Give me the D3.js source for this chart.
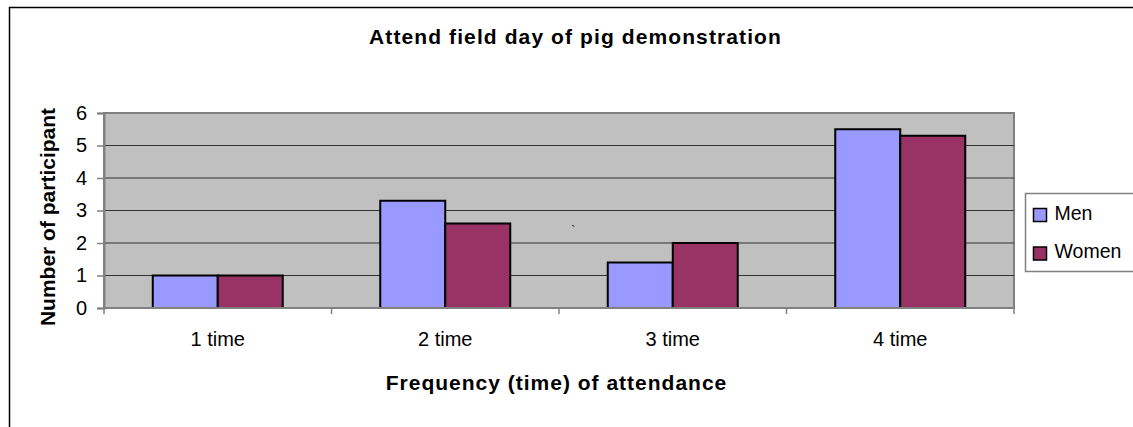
<!DOCTYPE html>
<html>
<head>
<meta charset="utf-8">
<script src="https://cdn.jsdelivr.net/npm/d3@7"></script>
<style>
  html, body { margin: 0; background: #fff; overflow: hidden; }
  svg { display: block; font-family: Arial, "Liberation Sans", sans-serif; }
</style>
</head>
<body>
<div id="chart"></div>
<script>
// chart data
var categories = ["1 time", "2 time", "3 time", "4 time"];
var seriesNames = ["Men", "Women"];
var menValues = [1, 3.3, 1.4, 5.5];
var womenValues = [1, 2.6, 2, 5.3];
var yTicks = [0, 1, 2, 3, 4, 5, 6];

var colors = { Men: "#9999ff", Women: "#993366" };

var W = 1133, H = 427;
var plot = { left: 104, top: 113, right: 1014, bottom: 308 };

var svg = d3.select("#chart").append("svg")
  .attr("width", W)
  .attr("height", H);

// outer chart border, only left and top edges are inside the picture
svg.append("path")
  .attr("d", "M9.5," + H + "V7.5H" + W)
  .attr("fill", "none")
  .attr("stroke", "#000")
  .attr("stroke-width", 1.5);

var x = d3.scaleBand()
  .domain(categories)
  .range([plot.left, plot.right]);

// each group is two bars plus a 150% gap
var inner = d3.scaleBand()
  .domain(seriesNames)
  .range([0, x.bandwidth()])
  .paddingOuter(0.75)
  .paddingInner(0);

var y = d3.scaleLinear()
  .domain([0, 6])
  .range([plot.bottom, plot.top]);

// plot area
svg.append("rect")
  .attr("x", plot.left).attr("y", plot.top)
  .attr("width", plot.right - plot.left)
  .attr("height", plot.bottom - plot.top)
  .attr("fill", "#c0c0c0")
  .attr("stroke", "#808080")
  .attr("stroke-width", 2);

// gridlines
svg.append("g")
  .selectAll("line")
  .data(yTicks.filter(d => d > 0 && d < 6))
  .enter().append("line")
    .attr("x1", plot.left).attr("x2", plot.right)
    .attr("y1", d => y(d)).attr("y2", d => y(d))
    .attr("stroke", "#333")
    .attr("stroke-width", 1.2);

// stray backtick that sits in the plot area of the original
svg.append("text")
  .attr("x", 571)
  .attr("y", 236)
  .style("font-size", "14px")
  .attr("fill", "#333")
  .text("`");

// bars
var rows = categories.map((c, i) => ({ cat: c, Men: menValues[i], Women: womenValues[i] }));

svg.append("g")
  .selectAll("g")
  .data(rows)
  .enter().append("g")
    .attr("transform", d => "translate(" + x(d.cat) + ",0)")
  .selectAll("rect")
  .data(d => seriesNames.map(s => ({ key: s, value: d[s] })))
  .enter().append("rect")
    .attr("x", d => inner(d.key))
    .attr("width", inner.bandwidth())
    .attr("y", d => y(d.value))
    .attr("height", d => y(0) - y(d.value))
    .attr("fill", d => colors[d.key])
    .attr("stroke", "#000")
    .attr("stroke-width", 2);

// y axis
var yAxis = d3.axisLeft(y)
  .tickValues(yTicks)
  .tickFormat(d3.format("d"))
  .tickSize(7)
  .tickPadding(10);
var gy = svg.append("g")
  .attr("transform", "translate(" + plot.left + ",0)")
  .call(yAxis);
gy.select(".domain").attr("stroke", "#808080").attr("stroke-width", 2);
gy.selectAll(".tick line").attr("stroke", "#808080").attr("stroke-width", 1.5);
gy.selectAll(".tick text")
  .style("font-size", "20px")
  .attr("fill", "#000");

// x axis (ticks between categories)
var gx = svg.append("g")
  .attr("transform", "translate(0," + plot.bottom + ")");
gx.append("line")
  .attr("x1", plot.left).attr("x2", plot.right)
  .attr("stroke", "#808080").attr("stroke-width", 2);
gx.selectAll(".sep")
  .data(categories.concat(["end"]))
  .enter().append("line")
    .attr("class", "sep")
    .attr("x1", (d, i) => plot.left + i * x.bandwidth())
    .attr("x2", (d, i) => plot.left + i * x.bandwidth())
    .attr("y1", 0).attr("y2", 6)
    .attr("stroke", "#808080").attr("stroke-width", 1.5);
gx.selectAll(".lbl")
  .data(categories)
  .enter().append("text")
    .attr("class", "lbl")
    .attr("x", d => x(d) + x.bandwidth() / 2)
    .attr("y", 38)
    .attr("text-anchor", "middle")
    .style("font-size", "20px")
    .text(d => d);

// title
svg.append("text")
  .attr("x", 575.5)
  .attr("y", 44)
  .attr("text-anchor", "middle")
  .style("font-size", "21px")
  .style("font-weight", "bold")
  .style("letter-spacing", "1.1px")
  .text("Attend field day of pig demonstration");

// axis titles
svg.append("text")
  .attr("x", 556.5)
  .attr("y", 390)
  .attr("text-anchor", "middle")
  .style("font-size", "21px")
  .style("font-weight", "bold")
  .style("letter-spacing", "1px")
  .text("Frequency (time) of attendance");

svg.append("text")
  .attr("transform", "translate(55,217) rotate(-90)")
  .attr("text-anchor", "middle")
  .style("font-size", "21px")
  .style("font-weight", "bold")
  .text("Number of participant");

// legend
var legend = svg.append("g");
legend.append("rect")
  .attr("x", 1025.5).attr("y", 193.5)
  .attr("width", 130).attr("height", 78)
  .attr("fill", "#fff")
  .attr("stroke", "#808080")
  .attr("stroke-width", 1.5);

var items = legend.selectAll(".item")
  .data(seriesNames)
  .enter().append("g")
    .attr("class", "item")
    .attr("transform", (d, i) => "translate(1033.5," + (208.5 + i * 38.5) + ")");
items.append("rect")
  .attr("width", 13).attr("height", 13)
  .attr("fill", d => colors[d])
  .attr("stroke", "#000")
  .attr("stroke-width", 1.5);
items.append("text")
  .attr("x", 21).attr("y", 11)
  .style("font-size", "19.5px")
  .text(d => d);
</script>
</body>
</html>
